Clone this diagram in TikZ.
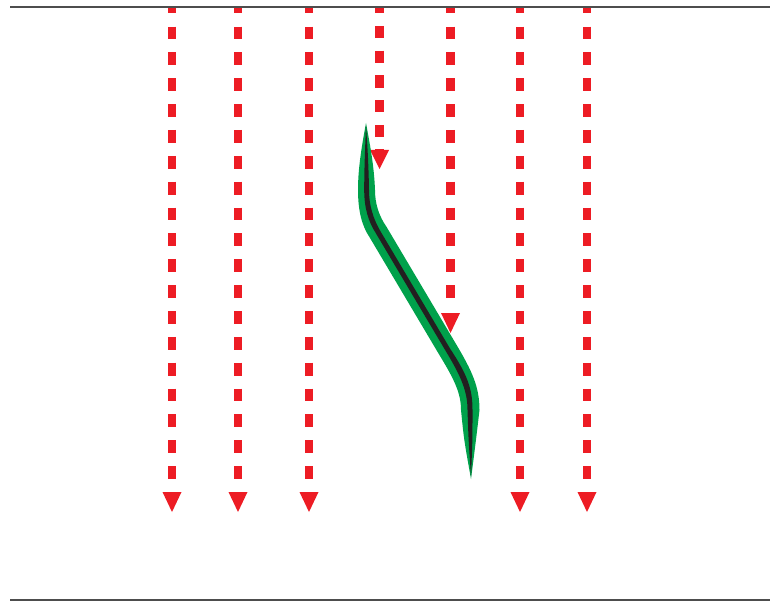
\documentclass[tikz,border=0pt]{standalone}
\definecolor{arrowred}{HTML}{ED1C24}
\definecolor{rulegray}{HTML}{4D4D4D}
\definecolor{bandgreen}{HTML}{00A14B}
\definecolor{coreblack}{HTML}{231F20}
\begin{document}
\begin{tikzpicture}[x=1pt,y=-1pt,
  rule/.style={draw=rulegray,line width=1.3pt},
  redshaft/.style={draw=arrowred,line width=8.6pt,dash pattern=on 12.8pt off 13.06pt,dash phase=6.3pt},
  shortshaft/.style={draw=arrowred,line width=8.6pt,dash pattern=on 12.2pt off 12.5pt,dash phase=5.7pt},
  redhead/.style={fill=arrowred},
  band/.style={fill=bandgreen},
  core/.style={fill=coreblack}]
\useasboundingbox (0,0) rectangle (770,601);

% long arrows
\foreach \x/\n in {172/a,238/b,309/c,520/f,587/g}{
  \coordinate (top\n) at (\x,7);
  \coordinate (base\n) at (\x,492);
  \coordinate (tip\n) at (\x,512);
  \draw[redshaft] (top\n) -- (base\n);
  \fill[redhead] (\x-9.5,492) -- (\x+9.5,492) -- (tip\n) -- cycle;
}
% short arrow at 379
\coordinate (topd) at (379.5,7);
\coordinate (based) at (379.5,150);
\coordinate (tipd) at (379.5,169);
\draw[shortshaft] (topd) -- (based);
\fill[redhead] (370,150) -- (389,150) -- (tipd) -- cycle;
% medium arrow at 450
\coordinate (tope) at (450.5,7);
\coordinate (basee) at (450.5,311);
\coordinate (tipe) at (450.5,333);
\draw[redshaft] (tope) -- (basee);
\fill[redhead] (441,313) -- (460,313) -- (tipe) -- cycle;

% green band
\fill[band] (366,123) .. controls (361,150) and (358,170) .. (358,190)
  .. controls (358,211) and (362,226) .. (369.4,237)
  -- (439.4,355) .. controls (454,379) and (461,393) .. (461,410)
  .. controls (464,440) .. (471,479)
  .. controls (476,440) .. (479.5,410)
  .. controls (479.5,387) and (472,371) .. (456.6,345)
  -- (386.6,227) .. controls (379,216) and (375,204) .. (375,190)
  .. controls (374,165) and (370,145) .. (366,123) -- cycle;
% black core
\fill[core] (366,126) .. controls (365,150) and (364.2,170) .. (364.2,190)
  .. controls (364.2,208) and (368.5,222) .. (375.85,233.25)
  -- (445.85,351.25) .. controls (461.5,377) and (467.5,392) .. (467.5,410)
  .. controls (468.5,440) .. (471,476)
  .. controls (472.5,440) .. (472.5,410)
  .. controls (472.5,389) and (467.5,375) .. (450.15,348.75)
  -- (380.15,230.75) .. controls (373.5,219) and (369,206) .. (369,190)
  .. controls (368.6,165) and (367.4,145) .. (366,126) -- cycle;

% rules
\coordinate (tl) at (10,7);
\coordinate (tr) at (770,7);
\coordinate (bl) at (10,600);
\coordinate (br) at (770,600);
\draw[rule] (tl) -- (tr);
\draw[rule] (bl) -- (br);
\end{tikzpicture}
\end{document}
